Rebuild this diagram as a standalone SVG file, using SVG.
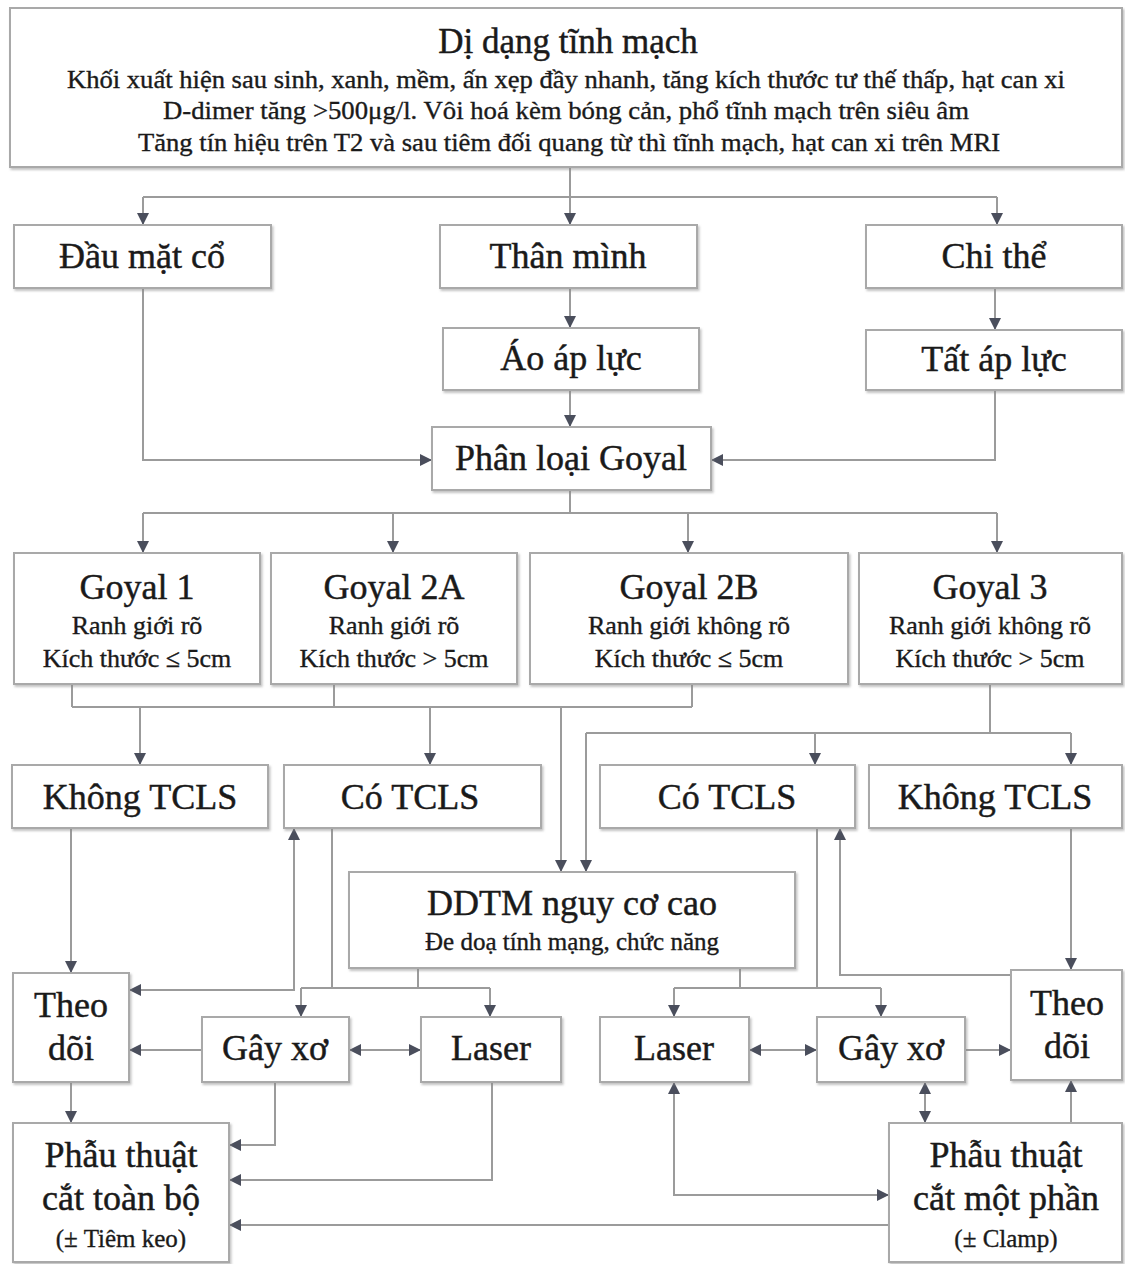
<svg xmlns="http://www.w3.org/2000/svg" width="1125" height="1264" viewBox="0 0 1125 1264">
<defs>
<filter id="sh" x="-5%" y="-5%" width="110%" height="115%">
<feDropShadow dx="1.5" dy="2" stdDeviation="1" flood-color="#888" flood-opacity="0.5"/>
</filter>
<marker id="ah" viewBox="0 0 12 12" refX="12" refY="6" markerWidth="14" markerHeight="12" markerUnits="userSpaceOnUse" orient="auto-start-reverse">
<path d="M0,0 L12,6 L0,12 z" fill="#4a4e5c"/>
</marker>
<style>
.box{fill:#fff;stroke:#a9a9a9;stroke-width:2;filter:url(#sh)}
.t{font-family:"Liberation Serif","Times New Roman",serif;fill:#1a1a1a;stroke:#1a1a1a;stroke-width:0.45;text-anchor:middle}
.big{font-size:36px}
.title{font-size:35px}
.sm{font-size:25px;stroke-width:0.35}
.sub{font-size:26px;stroke-width:0.35}
.ln{fill:none;stroke:#9b9b9b;stroke-width:2}
.ar{fill:none;stroke:#9b9b9b;stroke-width:2;marker-end:url(#ah)}
.ar2{fill:none;stroke:#9b9b9b;stroke-width:2;marker-start:url(#ah);marker-end:url(#ah)}
</style>
</defs>
<rect width="1125" height="1264" fill="#fff"/>

<g id="connectors">
<path class="ln" d="M570,167 V197 M143,197 H997"/>
<path class="ar" d="M143,197 V225"/>
<path class="ar" d="M570,197 V225"/>
<path class="ar" d="M997,197 V225"/>
<path class="ar" d="M570,288 V328"/>
<path class="ar" d="M995,288 V330"/>
<path class="ar" d="M570,390 V427"/>
<path class="ar" d="M143,288 V460 H432"/>
<path class="ar" d="M995,390 V460 H711"/>
<path class="ln" d="M570,490 V513 M143,513 H997"/>
<path class="ar" d="M143,513 V553"/>
<path class="ar" d="M393,513 V553"/>
<path class="ar" d="M688,513 V553"/>
<path class="ar" d="M997,513 V553"/>
<path class="ln" d="M72,685 V707 M334,685 V707 M692,685 V707 M72,707 H692"/>
<path class="ar" d="M140,707 V765"/>
<path class="ar" d="M430,707 V765"/>
<path class="ar" d="M561,707 V872"/>
<path class="ln" d="M990,685 V733 M586,733 H1071"/>
<path class="ar" d="M815,733 V765"/>
<path class="ar" d="M1071,733 V765"/>
<path class="ar" d="M586,733 V872"/>
<path class="ar" d="M71,828 V973"/>
<path class="ln" d="M332,828 V988 M418,968 V988 M301,988 H490"/>
<path class="ar" d="M301,988 V1017"/>
<path class="ar" d="M490,988 V1017"/>
<path class="ar2" d="M294,828 V990 H129"/>
<path class="ar" d="M202,1050 H129"/>
<path class="ar2" d="M349,1050 H421"/>
<path class="ar" d="M71,1082 V1123"/>
<path class="ar" d="M275,1082 V1145 H229"/>
<path class="ar" d="M492,1082 V1180 H229"/>
<path class="ar" d="M889,1225 H229"/>
<path class="ln" d="M817,828 V988 M740,968 V988 M674,988 H881"/>
<path class="ar" d="M674,988 V1017"/>
<path class="ar" d="M881,988 V1017"/>
<path class="ar" d="M1071,828 V970"/>
<path class="ar" d="M1011,975 H840 V828"/>
<path class="ar2" d="M749,1050 H817"/>
<path class="ar" d="M965,1050 H1011"/>
<path class="ar2" d="M925,1082 V1123"/>
<path class="ar" d="M1071,1123 V1080"/>
<path class="ar2" d="M674,1082 V1195 H889"/>
</g>

<g id="n-top">
<rect class="box" x="10" y="8" width="1112" height="159"/>
<text class="t title" x="568" y="53">Dị dạng tĩnh mạch</text>
<text class="t sm" x="566" y="88" textLength="998" lengthAdjust="spacingAndGlyphs">Khối xuất hiện sau sinh, xanh, mềm, ấn xẹp đầy nhanh, tăng kích thước tư thế thấp, hạt can xi</text>
<text class="t sm" x="566" y="119" textLength="806" lengthAdjust="spacingAndGlyphs">D-dimer tăng &gt;500μg/l. Vôi hoá kèm bóng cản, phổ tĩnh mạch trên siêu âm</text>
<text class="t sm" x="569" y="151" textLength="862" lengthAdjust="spacingAndGlyphs">Tăng tín hiệu trên T2 và sau tiêm đối quang từ thì tĩnh mạch, hạt can xi trên MRI</text>
</g>

<g id="n-daumatco"><rect class="box" x="14" y="225" width="257" height="63"/><text class="t big" x="142" y="268">Đầu mặt cổ</text></g>
<g id="n-thanminh"><rect class="box" x="440" y="225" width="257" height="63"/><text class="t big" x="568" y="268">Thân mình</text></g>
<g id="n-chithe"><rect class="box" x="866" y="225" width="256" height="63"/><text class="t big" x="994" y="268">Chi thể</text></g>
<g id="n-aoapluc"><rect class="box" x="443" y="328" width="256" height="62"/><text class="t big" x="571" y="370">Áo áp lực</text></g>
<g id="n-tatapluc"><rect class="box" x="866" y="330" width="256" height="60"/><text class="t big" x="994" y="371">Tất áp lực</text></g>
<g id="n-phanloai"><rect class="box" x="432" y="427" width="279" height="63"/><text class="t big" x="571" y="470">Phân loại Goyal</text></g>

<g id="n-goyal1"><rect class="box" x="14" y="553" width="246" height="131"/>
<text class="t big" x="137" y="599">Goyal 1</text><text class="t sub" x="137" y="634">Ranh giới rõ</text><text class="t sub" x="137" y="667">Kích thước ≤ 5cm</text></g>
<g id="n-goyal2a"><rect class="box" x="271" y="553" width="246" height="131"/>
<text class="t big" x="394" y="599">Goyal 2A</text><text class="t sub" x="394" y="634">Ranh giới rõ</text><text class="t sub" x="394" y="667">Kích thước &gt; 5cm</text></g>
<g id="n-goyal2b"><rect class="box" x="530" y="553" width="318" height="131"/>
<text class="t big" x="689" y="599">Goyal 2B</text><text class="t sub" x="689" y="634">Ranh giới không rõ</text><text class="t sub" x="689" y="667">Kích thước ≤ 5cm</text></g>
<g id="n-goyal3"><rect class="box" x="859" y="553" width="263" height="131"/>
<text class="t big" x="990" y="599">Goyal 3</text><text class="t sub" x="990" y="634">Ranh giới không rõ</text><text class="t sub" x="990" y="667">Kích thước &gt; 5cm</text></g>

<g id="n-khongtcls-l"><rect class="box" x="12" y="765" width="256" height="63"/><text class="t big" x="140" y="809">Không TCLS</text></g>
<g id="n-cotcls-l"><rect class="box" x="284" y="765" width="257" height="63"/><text class="t big" x="410" y="809">Có TCLS</text></g>
<g id="n-cotcls-r"><rect class="box" x="600" y="765" width="255" height="63"/><text class="t big" x="727" y="809">Có TCLS</text></g>
<g id="n-khongtcls-r"><rect class="box" x="869" y="765" width="253" height="63"/><text class="t big" x="995" y="809">Không TCLS</text></g>

<g id="n-ddtm"><rect class="box" x="349" y="872" width="446" height="96"/>
<text class="t big" x="572" y="915">DDTM nguy cơ cao</text><text class="t sm" x="572" y="950">Đe doạ tính mạng, chức năng</text></g>

<g id="n-theodoi-l"><rect class="box" x="13" y="973" width="116" height="109"/>
<text class="t big" x="71" y="1017">Theo</text><text class="t big" x="71" y="1060">dõi</text></g>
<g id="n-gayxo-l"><rect class="box" x="202" y="1017" width="147" height="65"/><text class="t big" x="275" y="1060">Gây xơ</text></g>
<g id="n-laser-l"><rect class="box" x="421" y="1017" width="140" height="65"/><text class="t big" x="491" y="1060">Laser</text></g>
<g id="n-phauthuat-l"><rect class="box" x="13" y="1123" width="216" height="139"/>
<text class="t big" x="121" y="1167">Phẫu thuật</text><text class="t big" x="121" y="1210">cắt toàn bộ</text><text class="t sm" x="121" y="1247">(± Tiêm keo)</text></g>

<g id="n-laser-r"><rect class="box" x="600" y="1017" width="149" height="65"/><text class="t big" x="674" y="1060">Laser</text></g>
<g id="n-gayxo-r"><rect class="box" x="817" y="1017" width="148" height="65"/><text class="t big" x="891" y="1060">Gây xơ</text></g>
<g id="n-theodoi-r"><rect class="box" x="1011" y="970" width="111" height="110"/>
<text class="t big" x="1067" y="1015">Theo</text><text class="t big" x="1067" y="1058">dõi</text></g>
<g id="n-phauthuat-r"><rect class="box" x="889" y="1123" width="233" height="139"/>
<text class="t big" x="1006" y="1167">Phẫu thuật</text><text class="t big" x="1006" y="1210">cắt một phần</text><text class="t sm" x="1006" y="1247">(± Clamp)</text></g>
</svg>
